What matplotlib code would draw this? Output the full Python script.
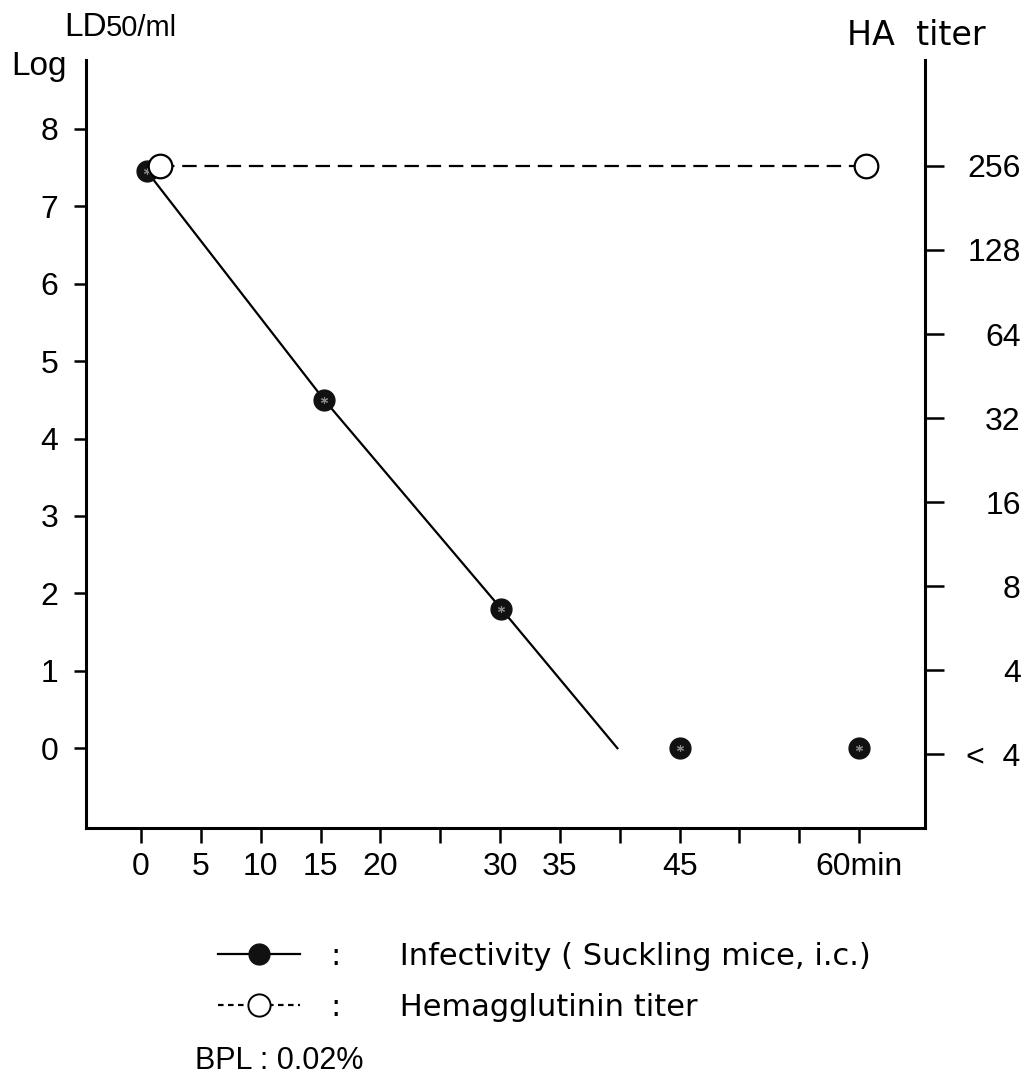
import numpy as np
import matplotlib
matplotlib.use('Agg')
from matplotlib import pyplot as plt
from matplotlib.lines import Line2D

# donnees
temps_inf = [0.5, 15.3, 30.1, 45.0, 60.0]
log_ld50 = [7.45, 4.5, 1.8, 0.0, 0.0]
temps_droite = [0.5, 15.3, 30.1, 39.8]      # droite de regression
log_droite = [7.45, 4.5, 1.8, 0.0]
temps_ha = [1.6, 60.6]
titre_ha = [256, 256]

x_ticks = [0, 5, 10, 15, 20, 25, 30, 35, 40, 45, 50, 55, 60]
x_labels = ['0', '5', '10', '15', '20', '', '30', '35', '', '45', '', '', '60min']
y_ticks = [0, 1, 2, 3, 4, 5, 6, 7, 8]
ha_ticks = [2, 4, 8, 16, 32, 64, 128, 256]
ha_labels = ['<  4', '4', '8', '16', '32', '64', '128', '256']

lib = ['Liberation Sans', 'DejaVu Sans']
dv = ['DejaVu Sans']

fig = plt.figure(figsize=(10.31, 10.91), dpi=100)
ax = fig.add_axes([0.0834, 0.2411, 0.8138, 0.7039])
ax2 = ax.twinx()

ax.plot(temps_droite, log_droite, color='black', lw=1.6)
ax.plot(temps_inf, log_ld50, ls='none', marker='o', ms=15, color='#111111')
ax.plot(temps_inf, log_ld50, ls='none', marker=(6, 2, 0), ms=5, color='#888888', mew=0.8)
ax2.plot(temps_ha, titre_ha, ls=(0, (6.5, 3.5)), lw=1.6, color='black',
         marker='o', ms=17, mfc='white', mec='black', mew=1.6)

ax.set_xlim(-4.6, 65.5)
ax.set_ylim(-1.03, 8.89)
ax2.set_yscale('log', base=2)
ax2.set_ylim(2 ** 0.124, 2 ** 9.26)

ax.spines['top'].set_visible(False)
ax2.spines['top'].set_visible(False)
for s in ['left', 'bottom']:
    ax.spines[s].set_linewidth(2.2)
ax2.spines['right'].set_linewidth(2.2)
ax2.spines['left'].set_visible(False)
ax2.spines['bottom'].set_visible(False)

ax.set_xticks(x_ticks)
ax.set_xticklabels(x_labels, family=lib, fontsize=23)
ax.set_yticks(y_ticks)
ax.set_yticklabels([str(v) for v in y_ticks], family=lib, fontsize=23)
ax.tick_params(axis='x', direction='out', length=11, width=1.8, pad=6)
ax.tick_params(axis='y', direction='out', length=9, width=1.8, pad=11)

ax2.set_yticks(ha_ticks)
ax2.set_yticklabels(ha_labels, family=lib, fontsize=23)
ax2.yaxis.set_minor_locator(matplotlib.ticker.NullLocator())
ax2.tick_params(axis='y', direction='out', length=14, width=1.8, pad=55)
for t in ax2.get_yticklabels():
    t.set_horizontalalignment('right')

# titres des axes
fig.text(0.062, 0.989, 'LD', family=lib, fontsize=24, va='top')
fig.text(0.103, 0.987, '50/ml', family=lib, fontsize=21, va='top')
fig.text(0.011, 0.953, 'Log', family=lib, fontsize=24, va='top')
fig.text(0.822, 0.983, 'HA  titer', family=dv, fontsize=24, va='top')

# legende
h1 = Line2D([], [], color='black', lw=1.6, marker='o', ms=15, mfc='#111111', mec='#111111')
h2 = Line2D([], [], color='black', lw=1.6, ls=(0, (2.5, 2)), marker='o', ms=16,
            mfc='white', mec='black', mew=1.4)
leg = fig.legend([h1, h2],
                 [':      Infectivity ( Suckling mice, i.c.)', ':      Hemagglutinin titer'],
                 loc='upper left', bbox_to_anchor=(0.211, 0.137), frameon=False,
                 handlelength=2.7, handletextpad=1.0, labelspacing=0.72,
                 prop={'family': dv, 'size': 22}, borderpad=0, borderaxespad=0)

fig.text(0.189, 0.014, 'BPL : 0.02%', family=lib, fontsize=22, va='bottom')

plt.savefig('out.png', dpi=100)
